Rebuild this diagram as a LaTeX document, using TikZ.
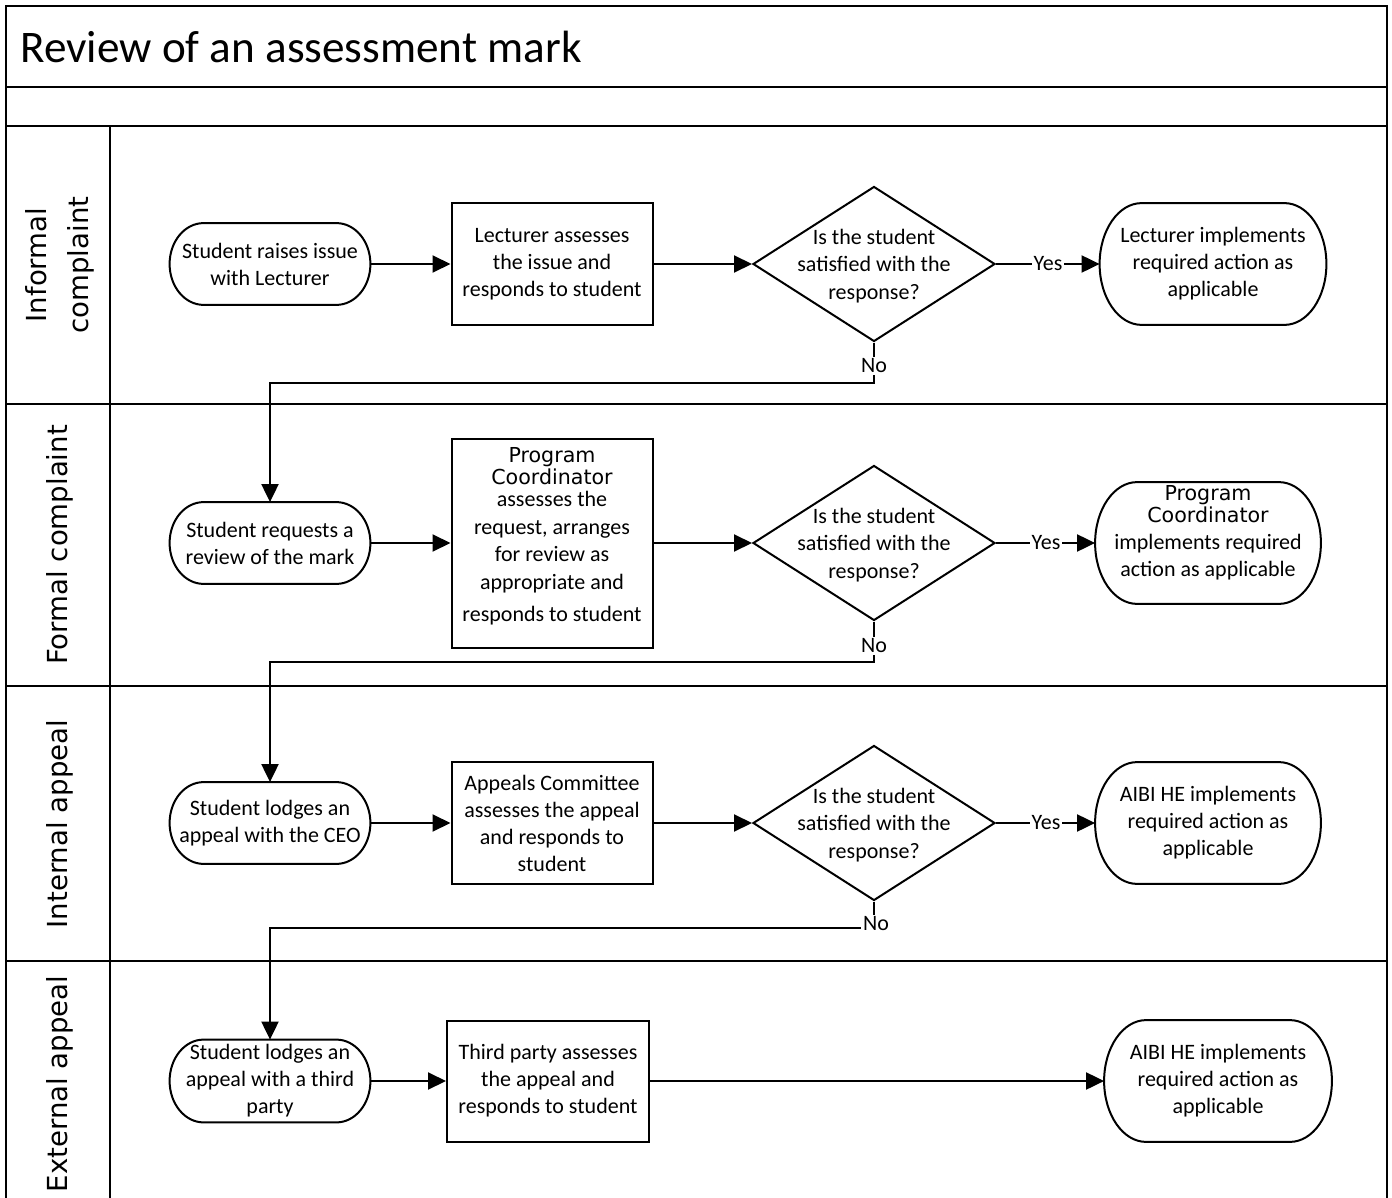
\documentclass[tikz,border=0pt]{standalone}
\usepackage{fontspec}
\setmainfont{Carlito}
\newfontfamily\dvs{DejaVu Sans}
\usetikzlibrary{shapes.geometric, arrows.meta, calc}

\newcommand\termdraw[2]{%
  \draw[line width=1pt] let \p1=(#1.north west), \p2=(#1.south east), \n1={0.5*(\y1-\y2)} in
    (\x1+#2,\y1) -- (\x2-#2,\y1)
    arc[start angle=90, end angle=-90, x radius=#2, y radius=\n1]
    -- (\x1+#2,\y2)
    arc[start angle=270, end angle=90, x radius=#2, y radius=\n1] -- cycle;
}

\begin{document}
\begin{tikzpicture}[x=0.5pt, y=-0.5pt,
  frame/.style={line width=1.2pt},
  lanelbl/.style={rotate=90, align=center, inner sep=0pt, font=\dvs\fontsize{13.8}{21}\selectfont},
  procbox/.style={draw, line width=1pt, minimum width=100.5pt, minimum height=60.5pt, inner sep=0pt, align=center, font=\fontsize{11}{13.5}\selectfont},
  decision/.style={draw, diamond, line width=1pt, minimum width=121pt, minimum height=77.5pt, inner sep=0pt},
  dtext/.style={align=center, inner sep=0pt, font=\fontsize{11}{13.75}\selectfont},
  termnode/.style={minimum width=100pt, minimum height=40.5pt, inner sep=0pt, align=center, font=\fontsize{11}{13.5}\selectfont},
  endnode/.style={termnode, minimum width=113pt, minimum height=60.5pt},
  arr/.style={line width=1pt, -{Triangle[length=9pt,width=8.5pt]}},
  yn/.style={fill=white, inner sep=1pt, font=\fontsize{11}{13}\selectfont}
]
\useasboundingbox (0,0) rectangle (1392,1198);

% frame and lanes
\draw[frame] (6,1198) -- (6,6) -- (1387,6) -- (1387,1198);
\draw[frame] (6,87) -- (1387,87);
\draw[frame] (6,126) -- (1387,126);
\draw[frame] (6,404) -- (1387,404);
\draw[frame] (6,686) -- (1387,686);
\draw[frame] (6,961) -- (1387,961);
\draw[frame] (110,126) -- (110,1198);

\node[anchor=west, inner sep=0pt, font=\fontsize{22.6}{26}\selectfont] (title) at (20,47) {Review of an assessment mark};

\node[lanelbl] (l1) at (60,265) {Informal\\complaint};
\node[lanelbl] (l2) at (60,545) {Formal complaint};
\node[lanelbl] (l3) at (60,824) {Internal appeal};
\node[lanelbl] (l4) at (60,1084) {External appeal};

% lane 1
\node[termnode] (s1) at (270,264) {Student raises issue\\with Lecturer};
\termdraw{s1}{17pt}
\node[procbox] (b1) at (552,264) {Lecturer assesses\\the issue and\\responds to student};
\node[decision] (d1) at (874,264) {};
\node[dtext] (d1t) at (874,266) {Is the student\\satisfied with the\\response?};
\node[endnode] (e1) at (1213,264) {Lecturer implements\\required action as\\applicable};
\termdraw{e1}{21pt}

% lane 2
\node[termnode] (s2) at (270,543) {Student requests a\\review of the mark};
\termdraw{s2}{17pt}
\node[procbox, minimum height=104.5pt] (b2) at (552,543) {};
\node[dtext, font=\fontsize{11}{11}\selectfont] (b2t) at (552,536) {{\dvs\fontsize{10.3}{11}\selectfont Program}\\{\dvs\fontsize{10.3}{11}\selectfont Coordinator}\\assesses the\\[3pt]request, arranges\\[2.5pt]for review as\\[3pt]appropriate and\\[5pt]responds to student};
\node[decision] (d2) at (874,543) {};
\node[dtext] (d2t) at (874,545) {Is the student\\satisfied with the\\response?};
\node[endnode, minimum width=112.5pt] (e2) at (1208,543) {};
\termdraw{e2}{21pt}
\node[dtext, font=\fontsize{11}{11}\selectfont] (e2t) at (1208,533) {{\dvs\fontsize{10.3}{11}\selectfont Program}\\{\dvs\fontsize{10.3}{11}\selectfont Coordinator}\\[2.5pt]implements required\\[2.5pt]action as applicable};

% lane 3
\node[termnode] (s3) at (270,823) {Student lodges an\\appeal with the CEO};
\termdraw{s3}{17pt}
\node[procbox, minimum height=61pt] (b3) at (552,823) {Appeals Committee\\assesses the appeal\\and responds to\\student};
\node[decision] (d3) at (874,823) {};
\node[dtext] (d3t) at (874,825) {Is the student\\satisfied with the\\response?};
\node[endnode, minimum width=112.5pt] (e3) at (1208,823) {AIBI HE implements\\required action as\\applicable};
\termdraw{e3}{21pt}

% lane 4
\node[termnode, minimum height=41pt] (s4) at (270,1081) {Student lodges an\\appeal with a third\\party};
\termdraw{s4}{17pt}
\node[procbox, minimum width=101pt] (b4) at (548,1081) {Third party assesses\\the appeal and\\responds to student};
\node[endnode, minimum width=113.5pt] (e4) at (1218,1081) {AIBI HE implements\\required action as\\applicable};
\termdraw{e4}{21pt}

% connectors lane 1
\draw[arr] (s1.east) -- (b1.west);
\draw[arr] (b1.east) -- (d1.west);
\draw[arr] (d1.east) -- (e1.west);
\node[yn] (y1) at (1048,264) {Yes};
\coordinate (c1) at (874,383);
\draw[arr] (d1.south) -- (c1) -| (s2.north);
\node[yn] (n1) at (874,366) {No};

% lane 2
\draw[arr] (s2.east) -- (b2.west);
\draw[arr] (b2.east) -- (d2.west);
\draw[arr] (d2.east) -- (e2.west);
\node[yn] (y2) at (1046,543) {Yes};
\coordinate (c2) at (874,662);
\draw[arr] (d2.south) -- (c2) -| (s3.north);
\node[yn] (n2) at (874,646) {No};

% lane 3
\draw[arr] (s3.east) -- (b3.west);
\draw[arr] (b3.east) -- (d3.west);
\draw[arr] (d3.east) -- (e3.west);
\node[yn] (y3) at (1046,823) {Yes};
\coordinate (c3) at (874,928);
\draw[arr] (d3.south) -- (c3) -| (s4.north);
\node[yn] (n3) at (876,924) {No};

% lane 4
\draw[arr] (s4.east) -- (b4.west);
\draw[arr] (b4.east) -- (e4.west);
\end{tikzpicture}
\end{document}
